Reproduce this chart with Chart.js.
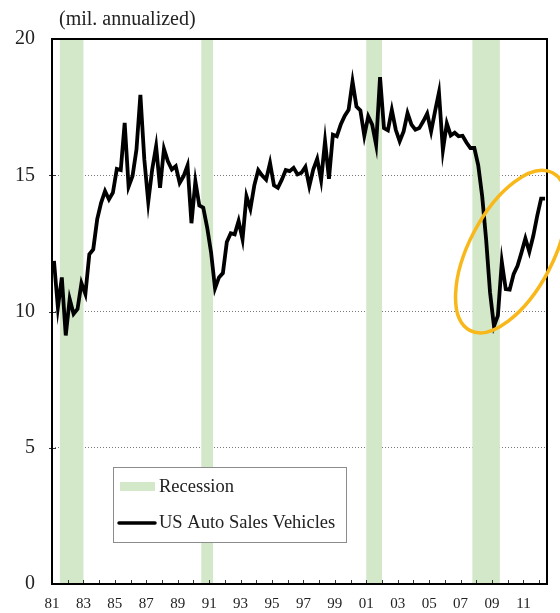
<!DOCTYPE html>
<html lang="en">
<head>
    <meta charset="UTF-8">
    <title>US Auto Sales</title>
    <script src="https://cdn.jsdelivr.net/npm/chart.js"></script>
    <style>
        body { margin: 0; background: #fff; overflow: hidden; }
        #wrap { width: 560px; height: 613px; position: relative; }
    </style>
</head>
<body>
    <div id="wrap"><canvas id="salesChart"></canvas></div>

    <script>
        // Quarterly sales, 1981Q1 - 2012Q2 (mil. units, annualized)
        const startYear = 1981;
        const autoSales = [
            11.86, 10.15, 11.25, 9.12, 10.46, 9.91, 10.09, 11.04,
            10.64, 12.10, 12.28, 13.38, 13.99, 14.42, 14.11, 14.36,
            15.23, 15.19, 16.92, 14.58, 14.97, 15.94, 17.95, 15.58,
            14.02, 15.21, 16.06, 14.54, 15.97, 15.51, 15.21, 15.33,
            14.72, 14.97, 15.36, 13.24, 14.78, 13.89, 13.81, 13.08,
            12.16, 10.85, 11.25, 11.41, 12.55, 12.87, 12.83, 13.32,
            12.65, 14.23, 13.77, 14.63, 15.19, 14.99, 14.84, 15.45,
            14.63, 14.54, 14.84, 15.19, 15.15, 15.27, 15.03, 15.09,
            15.31, 14.60, 15.21, 15.60, 14.82, 16.25, 14.87, 16.49,
            16.43, 16.86, 17.18, 17.40, 18.44, 17.52, 17.38, 16.45,
            17.16, 16.86, 16.12, 18.60, 16.73, 16.65, 17.40, 16.67,
            16.25, 16.61, 17.28, 16.86, 16.67, 16.73, 16.98, 17.26,
            16.61, 17.34, 18.04, 15.92, 16.90, 16.46, 16.56, 16.43,
            16.45, 16.20, 16.00, 16.00, 15.36, 14.23, 12.65, 10.70,
            9.46, 9.85, 11.82, 10.82, 10.80, 11.37, 11.68, 12.16,
            12.68, 12.19, 12.77, 13.50, 14.14, 14.14
        ];
        // Recession periods [start, end] in years
        const recessions = [[1981.5, 1983.0], [1990.5, 1991.25], [2001.0, 2002.0], [2007.75, 2009.5]];
        const labelYears = [1981, 1983, 1985, 1987, 1989, 1991, 1993, 1995, 1997, 1999, 2001, 2003, 2005, 2007, 2009, 2011];
        const yTicks = [0, 5, 10, 15, 20];

        const serif = "'Liberation Serif', 'Times New Roman', serif";
        const green = '#d2e8c9';

        const points = autoSales.map((v, i) => ({ x: startYear + (i + 0.5) / 4, y: v }));

        // Recession shading behind the line
        const bandsPlugin = {
            id: 'bands',
            beforeDatasetsDraw(chart) {
                const { ctx, chartArea: a, scales: { x } } = chart;
                ctx.save();
                ctx.fillStyle = green;
                recessions.forEach(([s, e]) => {
                    const x0 = x.getPixelForValue(s), x1 = x.getPixelForValue(e);
                    ctx.fillRect(x0, a.top, x1 - x0, a.bottom - a.top);
                });
                ctx.restore();
            }
        };

        // Frame, tick marks, title, legend and the highlight ellipse
        const decorPlugin = {
            id: 'decor',
            afterDatasetsDraw(chart) {
                const { ctx, chartArea: a, scales: { x, y } } = chart;
                ctx.save();
                ctx.strokeStyle = '#333';
                ctx.lineWidth = 1;
                ctx.beginPath();
                for (let yr = startYear + 1; yr <= 2012; yr++) {
                    const px = Math.round(x.getPixelForValue(yr)) + 0.5;
                    ctx.moveTo(px, a.bottom);
                    ctx.lineTo(px, a.bottom - 4);
                }
                yTicks.slice(1, -1).forEach(v => {
                    const py = Math.round(y.getPixelForValue(v)) + 0.5;
                    ctx.moveTo(a.left - 3, py);
                    ctx.lineTo(a.left + 4, py);
                });
                ctx.stroke();

                ctx.strokeStyle = '#000';
                ctx.lineWidth = 2;
                ctx.strokeRect(a.left, a.top, a.right - a.left, a.bottom - a.top);
                ctx.restore();
            },
            afterDraw(chart) {
                const { ctx, scales: { x, y } } = chart;
                ctx.save();

                ctx.fillStyle = '#222';
                ctx.font = `20px ${serif}`;
                ctx.textBaseline = 'alphabetic';
                ctx.fillText('(mil. annualized)', 59, 25);

                // legend
                ctx.fillStyle = '#fff';
                ctx.fillRect(113, 467, 233, 75);
                ctx.strokeStyle = '#8c8c8c';
                ctx.lineWidth = 1;
                ctx.strokeRect(113.5, 467.5, 233, 75);
                ctx.fillStyle = green;
                ctx.fillRect(120, 482, 35, 9);
                ctx.strokeStyle = '#000';
                ctx.lineWidth = 3.5;
                ctx.lineCap = 'round';
                ctx.beginPath();
                ctx.moveTo(119, 523);
                ctx.lineTo(155, 523);
                ctx.stroke();
                ctx.fillStyle = '#222';
                ctx.font = `18.5px ${serif}`;
                ctx.textBaseline = 'middle';
                ctx.fillText('Recession', 159, 487);
                ctx.fillText('US Auto Sales Vehicles', 159, 523);

                // highlight ellipse around the 2009 recovery
                ctx.strokeStyle = '#f8b81a';
                ctx.lineWidth = 3.5;
                ctx.beginPath();
                ctx.ellipse(x.getPixelForValue(2010.22), y.getPixelForValue(12.2), 89, 42, -62.3 * Math.PI / 180, 0, Math.PI * 2);
                ctx.stroke();
                ctx.restore();
            }
        };

        new Chart(document.getElementById('salesChart'), {
            type: 'line',
            data: {
                datasets: [{
                    label: 'US Auto Sales Vehicles',
                    data: points,
                    borderColor: '#000',
                    borderWidth: 3.8,
                    pointRadius: 0,
                    tension: 0
                }]
            },
            options: {
                responsive: true,
                maintainAspectRatio: false,
                animation: false,
                layout: { padding: { top: 39, right: 13, left: 0, bottom: 0 } },
                plugins: {
                    legend: { display: false },
                    tooltip: { enabled: false }
                },
                scales: {
                    x: {
                        type: 'linear',
                        min: 1981,
                        max: 2012.5,
                        afterFit: s => { s.height = 27; },
                        grid: { display: false },
                        border: { display: false },
                        ticks: {
                            stepSize: 1,
                            autoSkip: false,
                            maxRotation: 0,
                            padding: 3,
                            color: '#222',
                            font: { family: serif, size: 15 },
                            callback: v => labelYears.includes(v) ? String(v).slice(2) : ''
                        }
                    },
                    y: {
                        min: 0,
                        max: 20,
                        afterFit: s => { s.width = 52; },
                        grid: {
                            drawTicks: false,
                            lineWidth: 1,
                            color: c => (c.tick.value > 0 && c.tick.value < 20) ? '#777' : 'rgba(0,0,0,0)'
                        },
                        border: { display: false, dash: [1, 2] },
                        ticks: {
                            stepSize: 5,
                            padding: 17,
                            color: '#222',
                            font: { family: serif, size: 20 }
                        }
                    }
                }
            },
            plugins: [bandsPlugin, decorPlugin]
        });
    </script>
</body>
</html>
